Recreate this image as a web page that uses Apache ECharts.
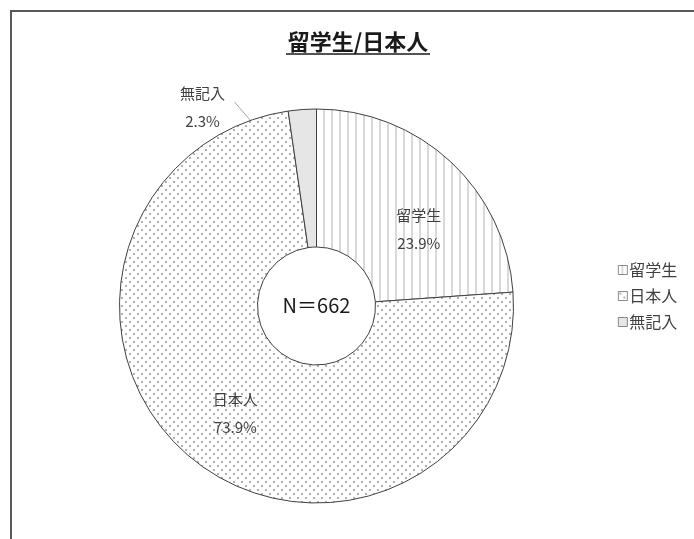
<!DOCTYPE html>
<html>
<head>
<meta charset="utf-8">
<script src="https://cdn.jsdelivr.net/npm/echarts@6/dist/echarts.min.js"></script>
<style>html,body{margin:0;padding:0;background:#fff;}#c{width:694px;height:539px;}</style>
</head>
<body>
<div id="c"></div>
<script>
// ---- data ----
const categories = ['留学生', '日本人', '無記入'];
const values = [23.9, 73.9, 2.3];
const percentLabels = ['23.9%', '73.9%', '2.3%'];
const titleText = '留学生/日本人';
const centerText = 'N＝662';

// ---- layout constants ----
const CX = 316.5, CY = 306, R_IN = 59, R_OUT = 197;
const FONT = '"Noto Sans CJK JP", "Noto Sans", sans-serif';

function makeTile(w, h, draw) {
  const c = document.createElement('canvas');
  c.width = w; c.height = h;
  const g = c.getContext('2d');
  g.fillStyle = '#ffffff'; g.fillRect(0, 0, w, h);
  draw(g);
  return { image: c, repeat: 'repeat' };
}
const stripePattern = makeTile(8, 8, g => { g.fillStyle = '#d9d9d9'; g.fillRect(3, 0, 2, 8); });
const dotPattern = makeTile(8, 8, g => { g.fillStyle = '#b0b0b0'; g.fillRect(1, 1, 2, 2); g.fillRect(5, 5, 2, 2); });
const fills = [stripePattern, dotPattern, '#e6e6e6'];
const labelOffsets = [[13, 19], [1, 5], [0, 0]];

const chart = echarts.init(document.getElementById('c'), null, { renderer: 'canvas' });

const data = categories.map((name, i) => ({
  name: name,
  value: values[i],
  itemStyle: { color: fills[i] },
  label: i < 2
    ? { position: 'inside', offset: labelOffsets[i] }
    : { position: 'outside' },
  labelLine: { show: i === 2 }
}));

chart.setOption({
  animation: false,
  backgroundColor: '#ffffff',
  legend: {
    orient: 'vertical',
    left: 613,
    top: 257,
    itemWidth: 9,
    itemHeight: 9,
    itemGap: 10,
    icon: 'rect',
    data: categories,
    itemStyle: { borderColor: '#595959', borderWidth: 0.7 },
    textStyle: { fontFamily: FONT, fontSize: 16, color: '#404040', padding: [0, 0, 0, -3] }
  },
  series: [{
    type: 'pie',
    center: [CX, CY],
    radius: [R_IN, R_OUT],
    startAngle: 90,
    clockwise: true,
    avoidLabelOverlap: false,
    itemStyle: { borderColor: '#404040', borderWidth: 1 },
    label: {
      show: true,
      formatter: p => p.name + '\n' + percentLabels[p.dataIndex],
      fontFamily: FONT,
      fontSize: 15,
      color: '#404040',
      lineHeight: 28,
      align: 'center'
    },
    labelLine: { lineStyle: { color: '#a6a6a6', width: 1 } },
    labelLayout: function (p) {
      if (p.dataIndex !== 2) return {};
      const lx = CX - 114, ly = CY - 199;
      const ang = (values[2] / 2) / values.reduce((a, b) => a + b, 0) * 2 * Math.PI;
      const rr = 118;
      const ex = CX - rr * Math.sin(ang), ey = CY - rr * Math.cos(ang);
      return {
        x: lx, y: ly, align: 'center', verticalAlign: 'middle',
        labelLinePoints: [[ex, ey], [ex - 36, ey - 43], [lx + 32, ly - 5]]
      };
    },
    data: data
  }],
  graphic: [
    { type: 'polyline', shape: { points: [[11, 539], [11, 11], [694, 11]] }, style: { stroke: '#5a5a5a', lineWidth: 2, fill: null } },
    { type: 'text', x: 358, y: 42, style: { text: titleText, align: 'center', verticalAlign: 'middle', font: 'bold 22px ' + FONT, fill: '#1a1a1a' } },
    { type: 'line', shape: { x1: 286, y1: 54, x2: 430, y2: 54 }, style: { stroke: '#1a1a1a', lineWidth: 1.5 } },
    { type: 'text', x: CX, y: CY - 1, style: { text: centerText, align: 'center', verticalAlign: 'middle', font: '20px ' + FONT, fill: '#1a1a1a' } }
  ]
});
</script>
</body>
</html>
